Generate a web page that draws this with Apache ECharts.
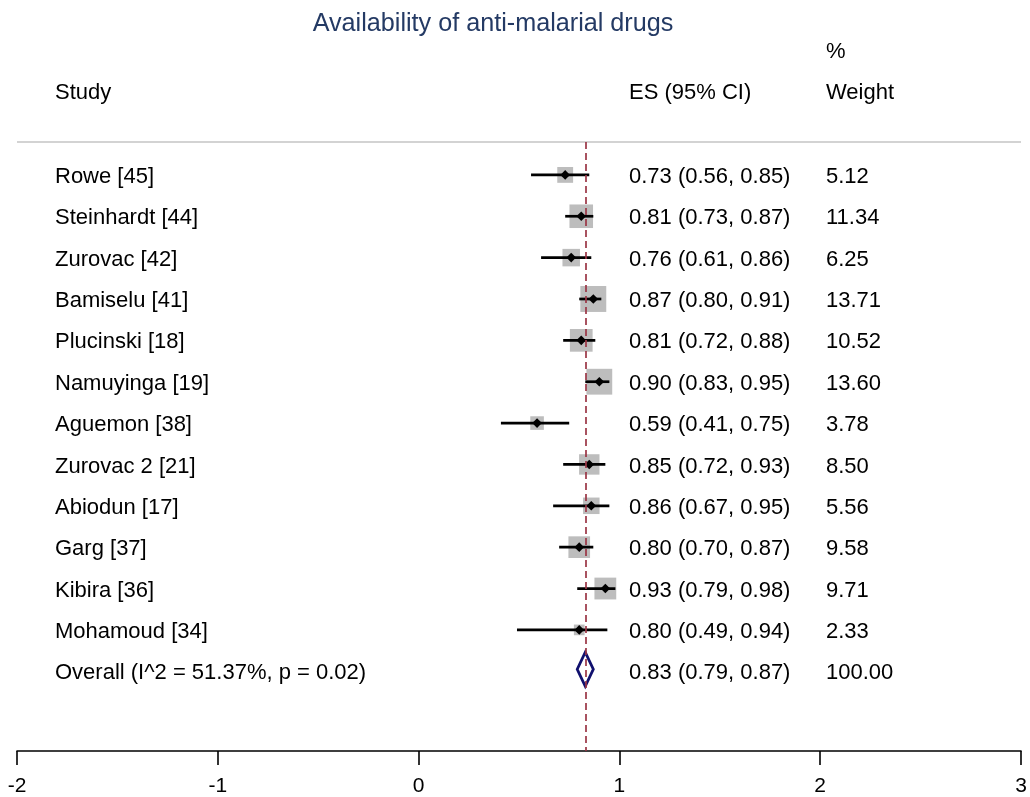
<!DOCTYPE html>
<html><head><meta charset="utf-8">
<script src="https://cdn.jsdelivr.net/npm/echarts@6/dist/echarts.min.js"></script>
<style>html,body{margin:0;padding:0;background:#fff}#c{width:1030px;height:797px}</style>
</head><body><div id="c"></div>
<script>
// ---- data ----
const titleText = 'Availability of anti-malarial drugs';
const headerStudy = 'Study';
const headerES = 'ES (95% CI)';
const headerPct = '%';
const headerWeight = 'Weight';
const studies = ['Rowe [45]', 'Steinhardt [44]', 'Zurovac [42]', 'Bamiselu [41]', 'Plucinski [18]', 'Namuyinga [19]', 'Aguemon [38]', 'Zurovac 2 [21]', 'Abiodun [17]', 'Garg [37]', 'Kibira [36]', 'Mohamoud [34]'];
const es = [0.73, 0.81, 0.76, 0.87, 0.81, 0.90, 0.59, 0.85, 0.86, 0.80, 0.93, 0.80];
const lo = [0.56, 0.73, 0.61, 0.80, 0.72, 0.83, 0.41, 0.72, 0.67, 0.70, 0.79, 0.49];
const hi = [0.85, 0.87, 0.86, 0.91, 0.88, 0.95, 0.75, 0.93, 0.95, 0.87, 0.98, 0.94];
const weights = [5.12, 11.34, 6.25, 13.71, 10.52, 13.60, 3.78, 8.50, 5.56, 9.58, 9.71, 2.33];
const overallLabel = 'Overall (I^2 = 51.37%, p = 0.02)';
const overallES = 0.83, overallLo = 0.79, overallHi = 0.87, overallWeight = 100.00;
const xMin = -2, xMax = 3, xInterval = 1;

// ---- layout ----
const FONT = '"Liberation Sans", Arial, Helvetica, sans-serif';
const FS = 22;
const gridLeft = 17, gridRight = 9, gridTop = 142, gridBottom = 44;
const rowStep = 41.5, firstRowY = 175;
const plotH = 797 - gridTop - gridBottom;
const yMin = -(firstRowY - gridTop) / rowStep;
const yMax = yMin + plotH / rowStep;
const colStudyX = 55, colESX = 629, colWX = 826;
const textShift = 2;

const rowLabels = studies.concat([overallLabel]);
const esTexts = es.map((v, i) => v.toFixed(2) + ' (' + lo[i].toFixed(2) + ', ' + hi[i].toFixed(2) + ')')
  .concat([overallES.toFixed(2) + ' (' + overallLo.toFixed(2) + ', ' + overallHi.toFixed(2) + ')']);
const wTexts = weights.map(w => w.toFixed(2)).concat([overallWeight.toFixed(2)]);

const chart = echarts.init(document.getElementById('c'), null, {renderer: 'canvas'});
const txt = (s, x, y) => ({type: 'text', x: x, y: y, style: {text: s, fontSize: FS, fontFamily: FONT, fill: '#000', align: 'left', verticalAlign: 'middle'}});

chart.setOption({
  animation: false,
  backgroundColor: '#fff',
  grid: {left: gridLeft, right: gridRight, top: gridTop, bottom: gridBottom, containLabel: false},
  xAxis: {
    type: 'value', min: xMin, max: xMax, interval: xInterval,
    axisLine: {show: true, onZero: false, lineStyle: {color: '#000', width: 1.6}},
    axisTick: {show: true, length: 14, lineStyle: {color: '#000', width: 1.6}},
    axisLabel: {fontSize: 21, fontFamily: FONT, color: '#000', margin: 25},
    splitLine: {show: false}
  },
  yAxis: {type: 'value', inverse: true, min: yMin, max: yMax, show: false},
  graphic: [
    {type: 'text', x: 493, y: 24, style: {text: titleText, fontSize: 25.2, fontFamily: FONT, fill: '#243a64', align: 'center', verticalAlign: 'middle'}},
    txt(headerStudy, colStudyX, 93),
    txt(headerES, colESX, 93),
    txt(headerPct, colWX, 52),
    txt(headerWeight, colWX, 93),
    {type: 'line', shape: {x1: 17, y1: gridTop, x2: 1021, y2: gridTop}, style: {stroke: '#c4c4c4', lineWidth: 1.5}}
  ],
  series: [
    {
      type: 'line', data: [], z: 1,
      markLine: {
        silent: true, symbol: 'none', animation: false,
        label: {show: false},
        lineStyle: {type: [7, 4], color: '#9b3545', width: 1.7},
        data: [{xAxis: overallES}]
      }
    },
    {
      type: 'custom', z: 3,
      encode: {x: [1, 2, 3], y: 0},
      data: studies.map((s, i) => [i, es[i], lo[i], hi[i], weights[i]]),
      renderItem: function (params, api) {
        const row = api.value(0);
        const p = api.coord([api.value(1), row]);
        const l = api.coord([api.value(2), row]);
        const h = api.coord([api.value(3), row]);
        const side = 7 * Math.sqrt(api.value(4));
        const d = 4.8;
        return {type: 'group', children: [
          {type: 'rect', shape: {x: p[0] - side / 2, y: p[1] - side / 2, width: side, height: side}, style: {fill: '#bdbdbd'}},
          {type: 'line', shape: {x1: l[0], y1: l[1], x2: h[0], y2: h[1]}, style: {stroke: '#000', lineWidth: 2.7}},
          {type: 'polygon', shape: {points: [[p[0] - d, p[1]], [p[0], p[1] - d], [p[0] + d, p[1]], [p[0], p[1] + d]]}, style: {fill: '#000'}}
        ]};
      }
    },
    {
      type: 'custom', z: 3,
      encode: {x: [1, 2, 3], y: 0},
      data: [[studies.length, overallES, overallLo, overallHi]],
      renderItem: function (params, api) {
        const row = api.value(0);
        const p = api.coord([api.value(1), row]);
        const l = api.coord([api.value(2), row]);
        const h = api.coord([api.value(3), row]);
        const hh = 17;
        const cy = p[1] - 2;
        return {type: 'polygon', shape: {points: [[l[0], cy], [p[0], cy - hh], [h[0], cy], [p[0], cy + hh]]},
          style: {fill: 'none', stroke: '#10106e', lineWidth: 2.8, lineJoin: 'miter'}};
      }
    },
    {
      type: 'custom', z: 4,
      encode: {x: 0, y: 1},
      data: rowLabels.map((s, i) => [0, i]),
      renderItem: function (params, api) {
        const i = params.dataIndex;
        const y = api.coord([0, api.value(1)])[1] + textShift;
        return {type: 'group', children: [
          txt(rowLabels[i], colStudyX, y),
          txt(esTexts[i], colESX, y),
          txt(wTexts[i], colWX, y)
        ]};
      }
    }
  ]
});
</script>
</body></html>
